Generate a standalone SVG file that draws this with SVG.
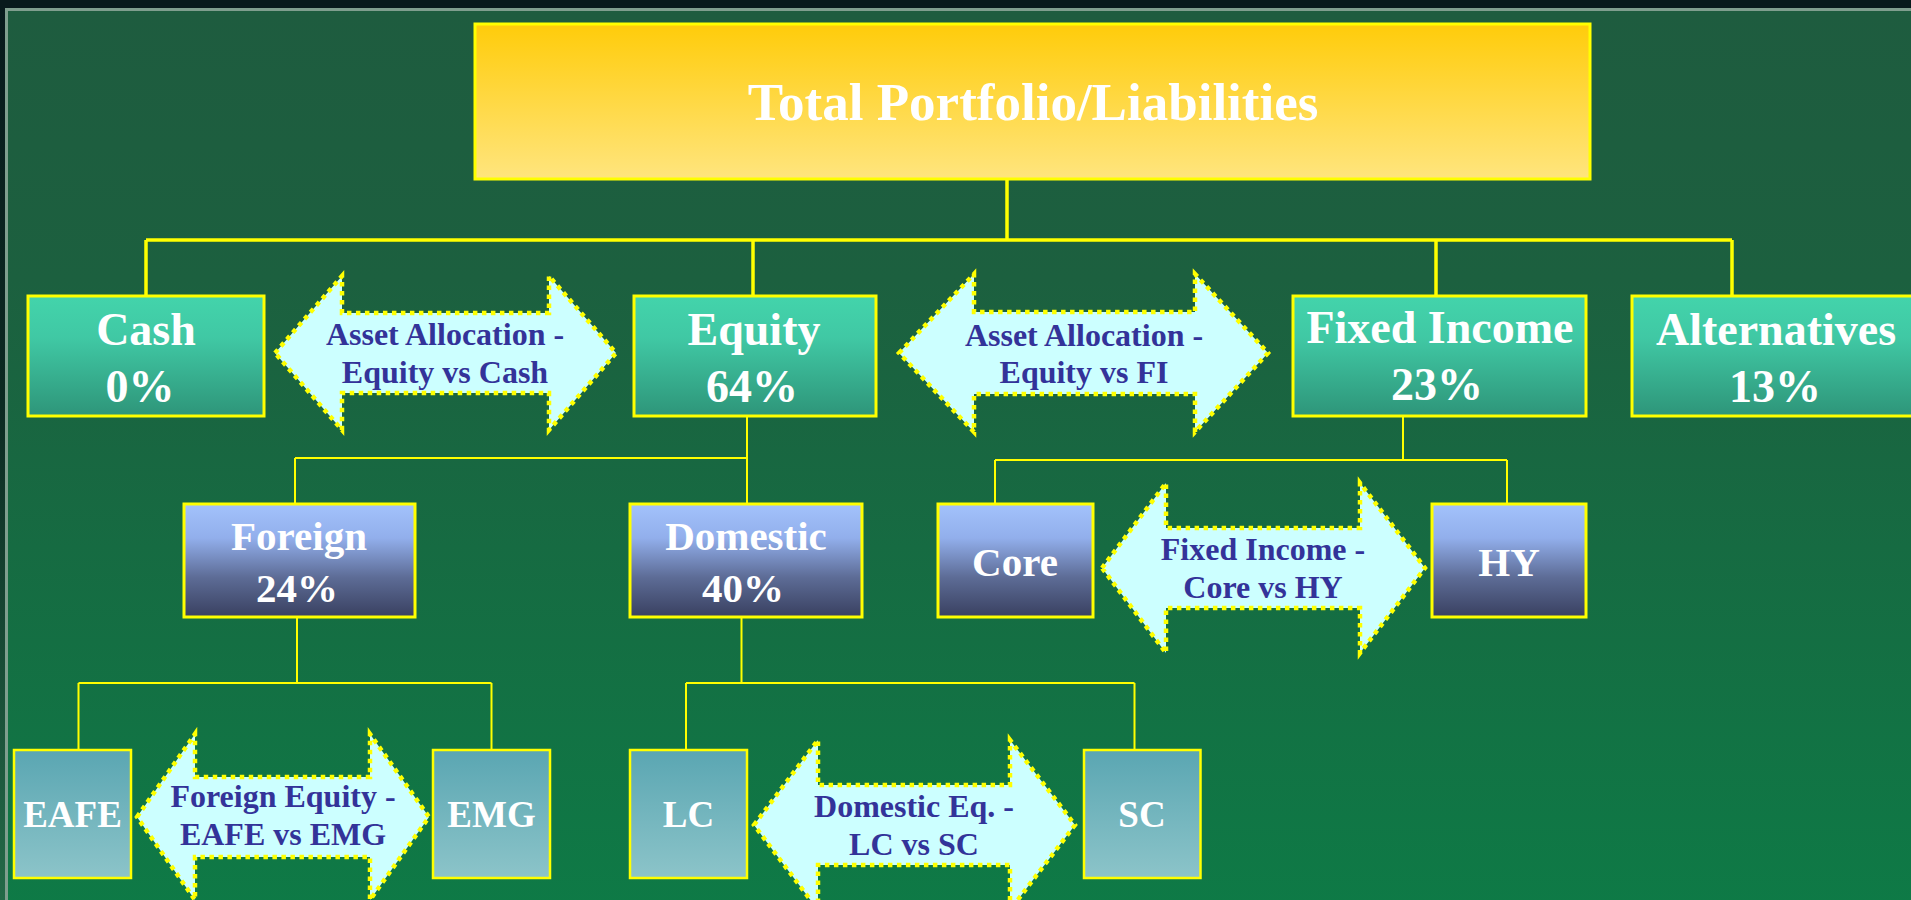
<svg xmlns="http://www.w3.org/2000/svg" width="1911" height="900" viewBox="0 0 1911 900">
  <defs>
    <linearGradient id="bg" x1="0" y1="0" x2="0" y2="1">
      <stop offset="0" stop-color="#1e5c3f"/>
      <stop offset="0.3" stop-color="#1c603f"/>
      <stop offset="1" stop-color="#0e7a46"/>
    </linearGradient>
    <linearGradient id="edge" x1="0" y1="0" x2="0" y2="1">
      <stop offset="0" stop-color="#081a1c"/>
      <stop offset="0.45" stop-color="#0c2a22"/>
      <stop offset="1" stop-color="#246a48"/>
    </linearGradient>
    <linearGradient id="gTitle" x1="0" y1="0" x2="0" y2="1">
      <stop offset="0" stop-color="#ffcc0a"/>
      <stop offset="1" stop-color="#ffe57e"/>
    </linearGradient>
    <linearGradient id="gL1" x1="0" y1="0" x2="0" y2="1">
      <stop offset="0" stop-color="#43d4ab"/>
      <stop offset="0.35" stop-color="#40c8a4"/>
      <stop offset="1" stop-color="#2e9579"/>
    </linearGradient>
    <linearGradient id="gL2" x1="0" y1="0" x2="0" y2="1">
      <stop offset="0" stop-color="#a3c2fb"/>
      <stop offset="0.3" stop-color="#92afec"/>
      <stop offset="0.65" stop-color="#5d6c96"/>
      <stop offset="1" stop-color="#394060"/>
    </linearGradient>
    <linearGradient id="gL3" x1="0" y1="0" x2="0" y2="1">
      <stop offset="0" stop-color="#5aa6b2"/>
      <stop offset="1" stop-color="#8cc4c9"/>
    </linearGradient>
    <style>
      .box1 { fill: url(#gL1); stroke: #ffff00; stroke-width: 3; }
      .box2 { fill: url(#gL2); stroke: #ffff00; stroke-width: 3; }
      .box3 { fill: url(#gL3); stroke: #ffff00; stroke-width: 2.5; }
      .title { fill: url(#gTitle); stroke: #ffff00; stroke-width: 3; }
      .lbl { font-family: "Liberation Serif", "Times New Roman", serif; font-weight: bold; fill: #ffffff; text-anchor: middle; }
      .t1 { font-size: 46px; }
      .t2 { font-size: 41px; }
      .t3 { font-size: 37px; }
      .tt { font-size: 53px; }
      .arrow { fill: #ccffff; stroke: #ffff00; stroke-width: 4.5; stroke-dasharray: 4.5 4.5; stroke-linejoin: miter; }
      .atxt { font-family: "Liberation Serif", "Times New Roman", serif; font-weight: bold; font-size: 32px; fill: #333399; text-anchor: middle; }
      .thick { fill: none; stroke: #ffff00; stroke-width: 3.5; }
      .thin { fill: none; stroke: #ffff00; stroke-width: 2; }
    </style>
  </defs>

  <!-- backdrop and frame -->
  <rect x="0" y="0" width="1911" height="900" fill="url(#edge)"/>
  <rect x="0" y="0" width="1911" height="8" fill="#081a1c"/>
  <rect x="6.5" y="9.5" width="1920" height="900" fill="url(#bg)" stroke="#7f9e8e" stroke-width="3"/>

  <!-- tree connectors -->
  <g id="connectors">
    <path class="thick" d="M1007,179 V240 M146,240 H1732 M146,240 V296 M753,240 V296 M1436,240 V296 M1732,240 V296"/>
    <path class="thin" d="M747,416 V504 M295,458 H747 M295,458 V504"/>
    <path class="thin" d="M297,617 V683 M78.5,683 H491.5 M78.5,683 V750 M491.5,683 V750"/>
    <path class="thin" d="M741.5,617 V683 M686,683 H1134.5 M686,683 V750 M1134.5,683 V750"/>
    <path class="thin" d="M1403,416 V460 M995,460 H1507 M995,460 V504 M1507,460 V504"/>
  </g>

  <!-- comparison arrows -->
  <g id="arrow-equity-cash">
    <path class="arrow" d="M275,353 L342,276 L342,313 L549,313 L549,276 L616,353 L549,430 L549,393 L342,393 L342,430 Z"/>
    <text class="atxt" x="445" y="345">Asset Allocation -</text>
    <text class="atxt" x="445" y="383">Equity vs Cash</text>
  </g>
  <g id="arrow-equity-fi">
    <path class="arrow" d="M899,353 L974,274 L974,312 L1195,312 L1195,274 L1268,353 L1195,432 L1195,394 L974,394 L974,432 Z"/>
    <text class="atxt" x="1084" y="346">Asset Allocation -</text>
    <text class="atxt" x="1084" y="383">Equity vs FI</text>
  </g>
  <g id="arrow-core-hy">
    <path class="arrow" d="M1102,568 L1166,483 L1166,528 L1360,528 L1360,483 L1425,568 L1360,653 L1360,608 L1166,608 L1166,653 Z"/>
    <text class="atxt" x="1263" y="560">Fixed Income -</text>
    <text class="atxt" x="1263" y="598">Core vs HY</text>
  </g>
  <g id="arrow-eafe-emg">
    <path class="arrow" d="M137,817 L195,734 L195,777 L370,777 L370,734 L429,817 L370,900 L370,857 L195,857 L195,900 Z"/>
    <text class="atxt" x="283" y="807">Foreign Equity -</text>
    <text class="atxt" x="283" y="845">EAFE vs EMG</text>
  </g>
  <g id="arrow-lc-sc">
    <path class="arrow" d="M754,825 L818,740 L818,785 L1010,785 L1010,740 L1075,825 L1010,910 L1010,865 L818,865 L818,910 Z"/>
    <text class="atxt" x="914" y="817">Domestic Eq. -</text>
    <text class="atxt" x="914" y="855">LC vs SC</text>
  </g>

  <!-- nodes -->
  <g id="node-total">
    <rect class="title" x="475" y="24" width="1115" height="155"/>
    <text class="lbl tt" x="1033" y="120">Total Portfolio/Liabilities</text>
  </g>
  <g id="node-cash">
    <rect class="box1" x="28" y="296" width="236" height="120"/>
    <text class="lbl t1" x="146" y="345">Cash</text>
    <text class="lbl t1" x="140" y="402">0%</text>
  </g>
  <g id="node-equity">
    <rect class="box1" x="634" y="296" width="242" height="120"/>
    <text class="lbl t1" x="754" y="345">Equity</text>
    <text class="lbl t1" x="752" y="402">64%</text>
  </g>
  <g id="node-fixed-income">
    <rect class="box1" x="1293" y="296" width="293" height="120"/>
    <text class="lbl t1" x="1440" y="343">Fixed Income</text>
    <text class="lbl t1" x="1437" y="400">23%</text>
  </g>
  <g id="node-alternatives">
    <rect class="box1" x="1632" y="296" width="300" height="120"/>
    <text class="lbl t1" x="1776" y="345">Alternatives</text>
    <text class="lbl t1" x="1775" y="402">13%</text>
  </g>
  <g id="node-foreign">
    <rect class="box2" x="184" y="504" width="231" height="113"/>
    <text class="lbl t2" x="299" y="550">Foreign</text>
    <text class="lbl t2" x="297" y="602">24%</text>
  </g>
  <g id="node-domestic">
    <rect class="box2" x="630" y="504" width="232" height="113"/>
    <text class="lbl t2" x="746" y="550">Domestic</text>
    <text class="lbl t2" x="743" y="602">40%</text>
  </g>
  <g id="node-core">
    <rect class="box2" x="938" y="504" width="155" height="113"/>
    <text class="lbl t2" x="1015" y="576">Core</text>
  </g>
  <g id="node-hy">
    <rect class="box2" x="1432" y="504" width="154" height="113"/>
    <text class="lbl t2" x="1509" y="576">HY</text>
  </g>
  <g id="node-eafe">
    <rect class="box3" x="14" y="750" width="117" height="128"/>
    <text class="lbl t3" x="72.5" y="827">EAFE</text>
  </g>
  <g id="node-emg">
    <rect class="box3" x="433" y="750" width="117" height="128"/>
    <text class="lbl t3" x="491.5" y="827">EMG</text>
  </g>
  <g id="node-lc">
    <rect class="box3" x="630" y="750" width="117" height="128"/>
    <text class="lbl t3" x="688.5" y="827">LC</text>
  </g>
  <g id="node-sc">
    <rect class="box3" x="1084" y="750" width="116.5" height="128"/>
    <text class="lbl t3" x="1142" y="827">SC</text>
  </g>
</svg>
